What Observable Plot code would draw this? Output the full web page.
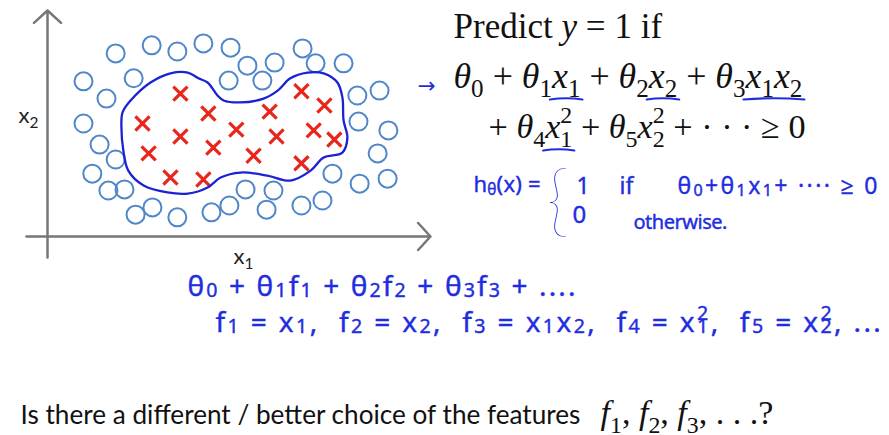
<!DOCTYPE html>
<html><head><meta charset="utf-8">
<script src="https://cdn.jsdelivr.net/npm/d3@7"></script>
<script src="https://cdn.jsdelivr.net/npm/@observablehq/plot@0.6"></script>
<style>body{margin:0;background:#fff}svg{display:block}text{white-space:pre}</style>
</head><body><div id="chart"></div>
<script>
// y = 0 examples (blue circles), feature space (x1, x2)
const circleX1 = [1.78,2.72,3.39,4.07,4.78,6.66,5.22,5.93,7.00,7.73,0.94,2.25,4.73,5.61,1.54,8.09,8.67,0.94,8.12,8.90,1.36,8.62,1.78,1.17,7.44,8.15,8.88,1.59,2.01,5.17,5.90,2.74,2.30,3.39,4.28,4.75,5.72,6.63,7.18];
const circleX2 = [4.78,4.99,4.83,5.04,4.93,4.91,4.46,4.54,4.52,4.52,4.05,4.13,4.07,4.07,3.60,3.68,3.81,2.95,3.00,2.77,2.40,2.17,2.01,1.64,1.64,1.38,1.51,1.20,1.23,1.23,1.20,0.76,0.57,0.50,0.63,0.81,0.70,0.81,0.94];
// y = 1 examples (red crosses)
const crossX1 = [3.47,2.48,4.20,3.47,2.64,4.33,4.93,5.80,6.63,7.23,6.95,7.49,5.98,5.38,6.63,3.21,4.07];
const crossX2 = [3.73,2.95,3.21,2.61,2.17,2.32,2.79,3.26,3.79,3.42,2.77,2.53,2.61,2.11,1.91,1.54,1.49];
// decision boundary (closed curve)
const boundaryX1 = [1.96,2.17,2.69,3.21,3.66,3.94,4.18,4.44,4.60,5.04,5.64,6.01,6.34,6.79,7.21,7.57,7.70,7.73,7.83,7.70,7.21,6.87,6.34,5.74,5.04,4.52,4.18,3.66,3.13,2.51,2.11,1.98,1.93];
const boundaryX2 = [3.24,3.55,4.02,4.26,4.28,4.13,4.02,3.68,3.55,3.50,3.60,3.81,4.13,4.28,4.26,4.02,3.63,3.03,2.58,2.19,2.06,1.72,1.46,1.59,1.67,1.54,1.28,1.12,1.15,1.33,1.72,2.25,2.85];
// axes (origin, ends)
const axisFrom = [[-0.55,0],[0,-0.55]];
const axisTo = [[10,0],[0,5.9]];
const axisLabelText = ["x_1","x_2"];

const circles = circleX1.map((v,i)=>({x1:v,x2:circleX2[i]}));
const crosses = crossX1.map((v,i)=>({x1:v,x2:crossX2[i]}));
const boundary = boundaryX1.map((v,i)=>({x1:v,x2:boundaryX2[i]}));
const axes = axisFrom.map((a,i)=>({x1:a[0],y1:a[1],x2:axisTo[i][0],y2:axisTo[i][1]}));

const BLUE = "#1f2de0";
const serif = "'Liberation Serif', 'DejaVu Serif', serif";
const hand = "'Noto Sans', 'Open Sans', sans-serif";
const sans = "Lato, 'Liberation Sans', sans-serif";
const texts = [
  {src:"Predict *y* = 1 if", left:453, base:37, size:25, font:serif, color:"#111", width:209},
  {src:"*θ*_0 + *θ*_1[*x*_1] + *θ*_2[*x*_2] + *θ*_3[*x*_1*x*_2]", left:453, base:87, size:25, font:serif, color:"#111", width:349, ul:12},
  {src:"+ *θ*_4[*x*_1^2] + *θ*_5*x*_2^2 + · · · ≥ 0", left:488, base:137, size:25, font:serif, color:"#111", width:317, ul:13},
  {src:"→", left:417, base:92, size:26, font:"'DejaVu Sans', sans-serif", color:BLUE, width:18},
  {src:"h_θ(x) =", left:473, base:191, size:22, font:hand, color:BLUE, width:67, spacing:true, sub:0.15, hw:true},
  {src:"{", left:546, base:226, size:78, font:"Lato", color:BLUE, weight:200},
  {src:"1", left:576, base:193, size:23, font:hand, color:BLUE, hw:true},
  {src:"if", left:619, base:193, size:23, font:hand, color:BLUE, hw:true},
  {src:"θ_0+θ_1x_1+ ···· ≥ 0", left:677, base:193, size:23, font:hand, color:BLUE, width:200, spacing:true, sub:0.1, hw:true},
  {src:"0", left:572, base:222, size:24, font:hand, color:BLUE, hw:true},
  {src:"otherwise.", left:633, base:228, size:20, font:hand, color:BLUE, width:94, spacing:true, hw:true},
  {src:"θ_0 + θ_1f_1 + θ_2f_2 + θ_3f_3 + ....", left:187, base:295, size:28, font:hand, color:BLUE, width:388, spacing:true, sub:0.06, hw:true},
  {src:"f_1 = x_1,  f_2 = x_2,  f_3 = x_1x_2,  f_4 = x_1^2,  f_5 = x_2^2, ...", left:215, base:331, size:28, font:hand, color:BLUE, width:670, spacing:true, sub:0.06, hw:true},
  {src:"Is there a different / better choice of the features", left:20, base:423, size:24, font:sans, color:"#111", width:560},
  {src:"*f*_1, *f*_2, *f*_3, . . .?", left:600, base:423, size:25, font:serif, color:"#111", width:173},
  {src:axisLabelText[1], left:18, base:122, size:22, font:sans, color:"#222"},
  {src:axisLabelText[0], left:233, base:263, size:22, font:sans, color:"#222"}
];

const plot = Plot.plot({
  width:889, height:435, margin:0,
  x:{domain:[0,10], range:[47,430], axis:null},
  y:{domain:[0,5.9], range:[236,10], axis:null},
  marks:[
    Plot.arrow(axes,{x1:"x1",y1:"y1",x2:"x2",y2:"y2",stroke:"#777",strokeWidth:2.5,headLength:11,headAngle:95}),
    Plot.dot(circles,{x:"x1",y:"x2",r:9,stroke:"#4f87c9",strokeWidth:2,fill:"none"}),
    Plot.dot(crosses,{x:"x1",y:"x2",symbol:"times",r:6.5,stroke:"#e8261c",strokeWidth:3.2}),
    Plot.line(boundary,{x:"x1",y:"x2",curve:"catmull-rom-closed",stroke:"#1c22d4",strokeWidth:2.3}),
    ...texts.map(t=>Plot.text([t.src],{text:d=>d,frameAnchor:"top-left",dx:t.left,dy:t.base,textAnchor:"start",lineAnchor:"bottom",fontSize:t.size,fontFamily:t.font,fill:t.color,fontWeight:t.weight||"normal",
      ...(t.hw?{stroke:t.color,strokeWidth:0.4}:{})}))
  ]
});
document.getElementById("chart").appendChild(plot);

function build(el, spec, fs, ls){
  const subK = spec.sub!=null ? spec.sub : 0.27;
  const t = d3.select(el).attr("y",0).attr("dy",null).attr("font-size",fs).attr("letter-spacing",ls||null);
  t.selectAll("*").remove(); t.text(null);
  let italic=false, shift=0, idx=0, ulStart=0, prevSub=null; const uls=[];
  const s=spec.src;
  for(let i=0;i<s.length;i++){
    const c=s[i];
    if(c==="*"){italic=!italic;continue;}
    if(c==="["){ulStart=idx;continue;}
    if(c==="]"){uls.push([ulStart,idx-1]);continue;}
    if((c==="_"||c==="^") && s.length>1){
      const ch=s[++i];
      const target = c==="_" ? subK*fs : -0.42*fs;
      const ts=t.append("tspan").attr("font-size",fs*0.7).attr("font-style","normal").attr("dy",target-shift).text(ch);
      if(c==="^" && prevSub) ts.attr("dx",-prevSub.node().getComputedTextLength());
      shift=target; idx++; prevSub = c==="_"?ts:null; continue;
    }
    prevSub=null;
    const ts=t.append("tspan").attr("font-style",italic?"italic":"normal").text(c);
    if(shift!==0){ts.attr("dy",-shift);shift=0;}
    idx++;
  }
  return {uls, n:idx};
}
const textEls = Array.from(plot.querySelectorAll("text"));
texts.forEach(spec=>{
  const el = textEls.find(e=>e.textContent===spec.src);
  if(!el) return;
  let fs=spec.size;
  let r=build(el,spec,fs,0);
  if(spec.width){
    if(spec.spacing){
      const w=el.getBBox().width;
      const ls=(spec.width-w)/Math.max(1,r.n-1);
      r=build(el,spec,fs,ls);
    } else {
      for(let k=0;k<2;k++){
        const w=el.getBBox().width;
        if(w>0){fs=fs*spec.width/w; r=build(el,spec,fs,0);}
      }
    }
  }
  if(spec.ul){
    r.uls.forEach(([a,b])=>{
      const x0=el.getStartPositionOfChar(a).x-2, x1=el.getEndPositionOfChar(b).x+2;
      const y=spec.ul;
      d3.select(el.parentNode).append("path")
        .attr("transform",el.getAttribute("transform"))
        .attr("d",`M${x0},${y}Q${(x0+x1)/2},${y-2.5} ${x1},${y}`)
        .attr("fill","none").attr("stroke",BLUE).attr("stroke-width",2.2).attr("stroke-linecap","round");
    });
  }
});
</script></body></html>
